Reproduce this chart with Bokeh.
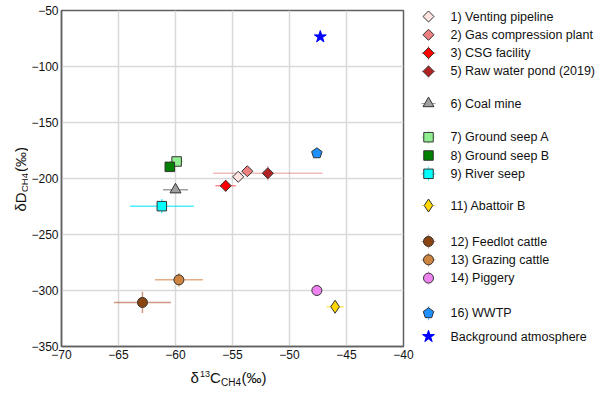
import math
from bokeh.plotting import figure
from bokeh.layouts import row, column
from bokeh.models import Label, FixedTicker, Range1d
from bokeh.core.properties import value
from bokeh.embed import file_html
from bokeh.resources import INLINE

# ---------------- data ----------------
labels = ["1) Venting pipeline", "2) Gas compression plant", "3) CSG facility",
          "5) Raw water pond (2019)", "6) Coal mine", "7) Ground seep A",
          "8) Ground seep B", "9) River seep", "11) Abattoir B",
          "12) Feedlot cattle", "13) Grazing cattle", "14) Piggery",
          "16) WWTP", "Background atmosphere"]
d13c = [-54.5, -53.7, -55.6, -51.9, -60.0, -59.9, -60.5, -61.2, -46.0,
        -62.9, -59.7, -47.6, -47.6, -47.3]
dD = [-198.5, -193.5, -206.5, -195.3, -210.0, -184.8, -189.6, -224.7, -314.5,
      -310.7, -290.5, -300.0, -177.5, -73.5]
d13c_err = [0, 0, 0.9, 4.8, 1.1, 0.6, 0, 2.8, 0.75, 2.5, 2.1, 0, 0, 0]
dD_err = [0, 0, 5.4, 6.5, 0, 4.5, 0, 6.3, 0, 9.5, 6.2, 3.0, 3.0, 0]
legend_groups = [[0, 1, 2, 3], [4], [5, 6, 7], [8], [9, 10, 11], [12], [13]]
x_ticks = [-70, -65, -60, -55, -50, -45, -40]
y_ticks = [-350, -300, -250, -200, -150, -100, -50]

# ---------------- styles ----------------
fills = ["#ffe4e1", "#f08080", "#ff0000", "#b22222", "#a0a0a0", "#90ee90",
         "#008000", "#00ffff", "#ffd700", "#8b4513", "#cd853f", "#ee82ee",
         "#1e90ff", "#0000ff"]
err_colors = ["#ffe4e1", "#f08080", "#ff3030", "#d04040", "#808080", "#90ee90",
              "#008000", "#00e5ff", "#ffd700", "#b0502a", "#d98a50", "#ee82ee",
              "#1e90ff", "#0000ff"]
err_alpha = [0.5, 0.5, 0.55, 0.35, 0.75, 0.6, 0.5, 0.7, 0.6, 0.6, 0.7, 0.5, 0.6, 0.5]
markers = ["square", "square", "square", "square", "triangle", "square", "square",
           "square", "diamond", "circle", "circle", "circle", "pentagon", "star"]
angles = [math.pi / 4] * 4 + [0.0] * 10
sizes = [7.8, 7.8, 7.8, 7.8, 11, 9.5, 9.5, 9.5, 13, 10, 10, 10, 10, 12.5]

FONT = "Liberation Sans"
TXT = "#111111"

# layout (page pixels; the page has no margin)
YSTRIP_W = 28
MAIN_W = 415 - YSTRIP_W
LEG_W = 600 - 415
FRAME_TOP, FRAME_BOTTOM = 10, 346
MAIN_H = 364
XSTRIP_H = 394 - MAIN_H


def blank_fig(w, h, xr=(0, 1), yr=(0, 1)):
    f = figure(width=w, height=h, output_backend="svg", toolbar_location=None,
               x_axis_location=None, y_axis_location=None,
               x_range=Range1d(*xr), y_range=Range1d(*yr),
               min_border_left=0, min_border_right=0, min_border_top=0,
               min_border_bottom=0)
    f.outline_line_color = None
    f.grid.visible = False
    f.background_fill_color = "white"
    f.border_fill_color = "white"
    return f


def add_marker(fig, i, xs, ys):
    line_col = "#0000ff" if markers[i] == "star" else "#333333"
    if markers[i] == "pentagon":
        try:
            return fig.ngon(x=xs, y=ys, radius=5.5, radius_units="screen", n=5,
                            angle=0, fill_color=fills[i], line_color=line_col,
                            line_width=1)
        except Exception:
            return fig.scatter(x=xs, y=ys, marker="hex", size=sizes[i],
                               fill_color=fills[i], line_color=line_col, line_width=1)
    return fig.scatter(x=xs, y=ys, marker=markers[i], size=sizes[i],
                       angle=angles[i], fill_color=fills[i], line_color=line_col,
                       line_width=1)


# ---------------- main plot ----------------
p = figure(width=MAIN_W, height=MAIN_H, output_backend="svg", toolbar_location=None,
           x_range=(-70, -40), y_range=(-350, -50),
           min_border_left=58 - YSTRIP_W, min_border_right=MAIN_W - (403 - YSTRIP_W),
           min_border_top=FRAME_TOP, min_border_bottom=MAIN_H - FRAME_BOTTOM)
p.background_fill_color = "white"
p.border_fill_color = "white"
p.outline_line_color = "#606060"
p.outline_line_width = 1.5

for ax, ticks in ((p.xaxis[0], x_ticks), (p.yaxis[0], y_ticks)):
    ax.ticker = FixedTicker(ticks=ticks)
    ax.major_label_overrides = {t: str(t).replace("-", "\u2212") for t in ticks}
    ax.major_tick_out = 0
    ax.major_tick_in = 0
    ax.minor_tick_out = 0
    ax.minor_tick_in = 0
    ax.axis_line_color = "#606060"
    ax.axis_line_width = 1.5
    ax.major_label_text_font = FONT
    ax.major_label_text_font_size = "12px"
    ax.major_label_text_color = TXT
    ax.major_label_standoff = 3

p.grid.grid_line_color = "#d9d9d9"
p.grid.grid_line_width = 1.5

for i in range(len(labels)):
    if d13c_err[i] > 0:
        p.segment(x0=[d13c[i] - d13c_err[i]], x1=[d13c[i] + d13c_err[i]],
                  y0=[dD[i]], y1=[dD[i]], line_color=err_colors[i],
                  line_alpha=err_alpha[i], line_width=1.5)
    if dD_err[i] > 0:
        p.segment(x0=[d13c[i]], x1=[d13c[i]], y0=[dD[i] - dD_err[i]],
                  y1=[dD[i] + dD_err[i]], line_color=err_colors[i],
                  line_alpha=err_alpha[i], line_width=1.5)

for i in range(len(labels)):
    add_marker(p, i, [d13c[i]], [dD[i]])

# ---------------- legend panel (right); its frame is aligned with the main frame,
# so its ranges are set up in page pixels ----------------
leg = blank_fig(LEG_W, MAIN_H, xr=(415, 600), yr=(FRAME_BOTTOM, FRAME_TOP))
first_row_y = [16, 103, 136.7, 205, 241, 312.7, 336]
ROW_PITCH = 18.3
GLYPH_X = 428
TEXT_X = 450
TICK = 7
row_y = [0.0] * len(labels)
for g, grp in enumerate(legend_groups):
    for k, i in enumerate(grp):
        row_y[i] = first_row_y[g] + ROW_PITCH * k
for i in range(len(labels)):
    if d13c_err[i] > 0:
        leg.segment(x0=[GLYPH_X - TICK], x1=[GLYPH_X + TICK], y0=[row_y[i]], y1=[row_y[i]],
                    line_color=err_colors[i], line_alpha=err_alpha[i], line_width=1.2)
    if dD_err[i] > 0:
        leg.segment(x0=[GLYPH_X], x1=[GLYPH_X], y0=[row_y[i] - TICK], y1=[row_y[i] + TICK],
                    line_color=err_colors[i], line_alpha=err_alpha[i], line_width=1.2)
for i in range(len(labels)):
    add_marker(leg, i, [GLYPH_X], [row_y[i]])
leg.text(x=[TEXT_X] * len(labels), y=row_y, text=labels,
         text_font=value(FONT), text_font_size=value("12.5px"),
         text_color=TXT, text_baseline="middle", text_align="left")


# ---------------- axis titles (with sub/superscripts) ----------------
def lab(fig, text, x, y, size, angle=0.0):
    fig.add_layout(Label(x=x, y=y, x_units="screen", y_units="screen", text=text,
                         angle=angle, text_font=FONT, text_font_size=size,
                         text_color=TXT, text_align="left",
                         text_baseline="alphabetic"))

# y title strip (frame aligned with main frame: page y 10..346)
ylab_fig = blank_fig(YSTRIP_W, MAIN_H)
yb = 20                      # baseline, page x
ys = FRAME_BOTTOM - 211      # start of text, page y 211
lab(ylab_fig, "\u03b4D", yb, ys, "15px", math.pi / 2)
lab(ylab_fig, "CH4", yb + 3.5, ys + 19.5, "9.5px", math.pi / 2)
lab(ylab_fig, "(\u2030)", yb, ys + 39.5, "15px", math.pi / 2)

# x title strip: page y 364..394
xlab_fig = blank_fig(600, XSTRIP_H)
xb = 394 - 377               # baseline at page y 377
x0 = 190
lab(xlab_fig, "\u03b4", x0, xb, "15px")
lab(xlab_fig, "13", x0 + 9.5, xb + 4, "9px")
lab(xlab_fig, "C", x0 + 19.5, xb, "15px")
lab(xlab_fig, "CH4", x0 + 30.5, xb - 5, "10px")
lab(xlab_fig, "(\u2030)", x0 + 51, xb, "15px")

layout = column(row(ylab_fig, p, leg, spacing=0), xlab_fig, spacing=0)

open("out.html", "w").write(file_html(layout, INLINE))
